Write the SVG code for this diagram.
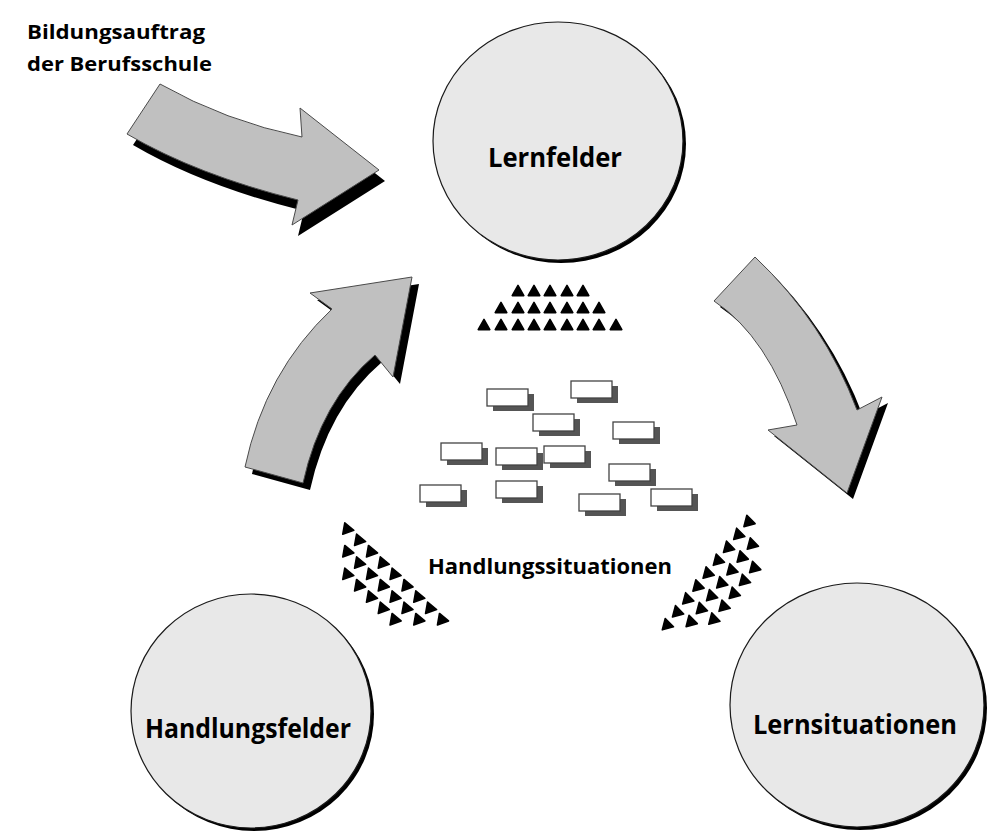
<svg xmlns="http://www.w3.org/2000/svg" xmlns:xlink="http://www.w3.org/1999/xlink" width="992" height="836" viewBox="0 0 992 836">
<style>
.txt{font-family:"Open Sans","Liberation Sans",sans-serif;font-weight:700;fill:#000}
.circ{fill:#e8e8e8;stroke:#1a1a1a;stroke-width:1.2}
.csh{fill:#000}
.arr{fill:#c0c0c0;stroke:#4a4a4a;stroke-width:1}
.ash{fill:#000}
.box{fill:#fff;stroke:#444;stroke-width:1.3}
.bsh{fill:#555}
.tri{fill:#000;stroke:#000;stroke-width:1.6;stroke-linejoin:round}
</style>
<defs>
<polygon id="tri" class="tri" points="0,-5.6 5.8,4.6 -5.8,4.6"/>
<g id="box"><rect class="bsh" x="6" y="5" width="41" height="17"/><rect class="box" x="0" y="0" width="41" height="17"/></g>
</defs>
<rect width="992" height="836" fill="#fff"/>

<g id="label-bildungsauftrag">
<text class="txt" x="27" y="39" font-size="20" textLength="178" lengthAdjust="spacingAndGlyphs">Bildungsauftrag</text>
<text class="txt" x="27" y="71" font-size="20" textLength="185" lengthAdjust="spacingAndGlyphs">der Berufsschule</text>
</g>

<g id="connectors">
<g id="arrow-bildung">
<path class="ash" transform="translate(6,11)" d="M160,84 Q225,121 302,137 L300,108 L379,170 L292,225 L298,200 Q197,175 127,134 Z"/>
<path class="arr" d="M160,84 Q225,121 302,137 L300,108 L379,170 L292,225 L298,200 Q197,175 127,134 Z"/>
</g>
<g id="arrow-handlungsfelder-lernfelder">
<path class="ash" transform="translate(7,7)" d="M245,467 Q265,372 332,309 L310,293 L412,277 L393,377 L375,355 Q321,401 303,483 Z"/>
<path class="arr" d="M245,467 Q265,372 332,309 L310,293 L412,277 L393,377 L375,355 Q321,401 303,483 Z"/>
</g>
<g id="arrow-lernfelder-lernsituationen">
<path class="ash" transform="translate(6,6)" d="M755,257 Q824,322 857,410 L882,397 L847,493 L768,430 L797,425 Q768,337 714,301 Z"/>
<path class="arr" d="M755,257 Q824,322 857,410 L882,397 L847,493 L768,430 L797,425 Q768,337 714,301 Z"/>
</g>
</g>

<g id="node-lernfelder">
<ellipse class="csh" cx="561" cy="144" rx="125" ry="119"/>
<ellipse class="circ" cx="558" cy="141" rx="125" ry="119"/>
<text class="txt" x="488" y="167" font-size="26" textLength="134" lengthAdjust="spacingAndGlyphs">Lernfelder</text>
</g>

<g id="node-handlungsfelder">
<ellipse class="csh" cx="254" cy="714" rx="120" ry="117"/>
<ellipse class="circ" cx="251" cy="711" rx="120" ry="117"/>
<text class="txt" x="145" y="738" font-size="26" textLength="206" lengthAdjust="spacingAndGlyphs">Handlungsfelder</text>
</g>

<g id="node-lernsituationen">
<ellipse class="csh" cx="860" cy="708" rx="127" ry="122"/>
<ellipse class="circ" cx="857" cy="705" rx="127" ry="122"/>
<text class="txt" x="753" y="734" font-size="26" textLength="204" lengthAdjust="spacingAndGlyphs">Lernsituationen</text>
</g>

<g id="triangles-top">
<use href="#tri" x="518" y="291"/><use href="#tri" x="534" y="291"/><use href="#tri" x="550" y="291"/><use href="#tri" x="567" y="291"/><use href="#tri" x="583" y="291"/>
<use href="#tri" x="501" y="308"/><use href="#tri" x="518" y="308"/><use href="#tri" x="534" y="308"/><use href="#tri" x="550" y="308"/><use href="#tri" x="567" y="308"/><use href="#tri" x="583" y="308"/><use href="#tri" x="599" y="308"/>
<use href="#tri" x="484" y="325"/><use href="#tri" x="501" y="325"/><use href="#tri" x="518" y="325"/><use href="#tri" x="534" y="325"/><use href="#tri" x="550" y="325"/><use href="#tri" x="567" y="325"/><use href="#tri" x="583" y="325"/><use href="#tri" x="599" y="325"/><use href="#tri" x="616" y="325"/>
</g>

<g id="triangles-left">
<use href="#tri" transform="translate(348.3,529.3) rotate(100)"/>
<use href="#tri" transform="translate(360.1,540.6) rotate(100)"/>
<use href="#tri" transform="translate(348.3,552) rotate(100)"/>
<use href="#tri" transform="translate(372,552) rotate(100)"/>
<use href="#tri" transform="translate(360.1,563.3) rotate(100)"/>
<use href="#tri" transform="translate(383.8,563.3) rotate(100)"/>
<use href="#tri" transform="translate(348.3,574.6) rotate(100)"/>
<use href="#tri" transform="translate(372,574.6) rotate(100)"/>
<use href="#tri" transform="translate(395.6,574.6) rotate(100)"/>
<use href="#tri" transform="translate(360.1,586) rotate(100)"/>
<use href="#tri" transform="translate(383.8,586) rotate(100)"/>
<use href="#tri" transform="translate(407.5,586) rotate(100)"/>
<use href="#tri" transform="translate(372,597.3) rotate(100)"/>
<use href="#tri" transform="translate(395.6,597.3) rotate(100)"/>
<use href="#tri" transform="translate(419.3,597.3) rotate(100)"/>
<use href="#tri" transform="translate(383.8,608.6) rotate(100)"/>
<use href="#tri" transform="translate(407.5,608.6) rotate(100)"/>
<use href="#tri" transform="translate(431.1,608.6) rotate(100)"/>
<use href="#tri" transform="translate(395.6,620) rotate(100)"/>
<use href="#tri" transform="translate(419.3,620) rotate(100)"/>
<use href="#tri" transform="translate(443,620) rotate(100)"/>
</g>

<g id="triangles-right">
<use href="#tri" transform="translate(748.3,520.7) rotate(-15)"/>
<use href="#tri" transform="translate(738.1,533.6) rotate(-15)"/>
<use href="#tri" transform="translate(727.9,546.5) rotate(-15)"/>
<use href="#tri" transform="translate(717.7,559.4) rotate(-15)"/>
<use href="#tri" transform="translate(707.5,572.3) rotate(-15)"/>
<use href="#tri" transform="translate(697.3,585.2) rotate(-15)"/>
<use href="#tri" transform="translate(687.1,598.1) rotate(-15)"/>
<use href="#tri" transform="translate(676.9,611) rotate(-15)"/>
<use href="#tri" transform="translate(666.7,623.9) rotate(-15)"/>
<use href="#tri" transform="translate(751.7,543.3) rotate(-15)"/>
<use href="#tri" transform="translate(741.5,556.2) rotate(-15)"/>
<use href="#tri" transform="translate(731.3,569.1) rotate(-15)"/>
<use href="#tri" transform="translate(721.1,582) rotate(-15)"/>
<use href="#tri" transform="translate(710.9,594.9) rotate(-15)"/>
<use href="#tri" transform="translate(700.7,607.8) rotate(-15)"/>
<use href="#tri" transform="translate(690.5,620.7) rotate(-15)"/>
<use href="#tri" transform="translate(754,566.7) rotate(-15)"/>
<use href="#tri" transform="translate(743.8,579.6) rotate(-15)"/>
<use href="#tri" transform="translate(733.6,592.5) rotate(-15)"/>
<use href="#tri" transform="translate(723.4,605.4) rotate(-15)"/>
<use href="#tri" transform="translate(713.2,618.3) rotate(-15)"/>
</g>

<g id="situation-cards">
<use href="#box" x="487" y="389"/>
<use href="#box" x="571" y="381"/>
<use href="#box" x="533" y="414"/>
<use href="#box" x="613" y="422"/>
<use href="#box" x="441" y="443"/>
<use href="#box" x="496" y="448"/>
<use href="#box" x="544" y="446"/>
<use href="#box" x="609" y="464"/>
<use href="#box" x="420" y="485"/>
<use href="#box" x="496" y="481"/>
<use href="#box" x="579" y="494"/>
<use href="#box" x="651" y="489"/>
</g>

<g id="label-handlungssituationen">
<text class="txt" x="428" y="574" font-size="21" textLength="244" lengthAdjust="spacingAndGlyphs">Handlungssituationen</text>
</g>
</svg>
